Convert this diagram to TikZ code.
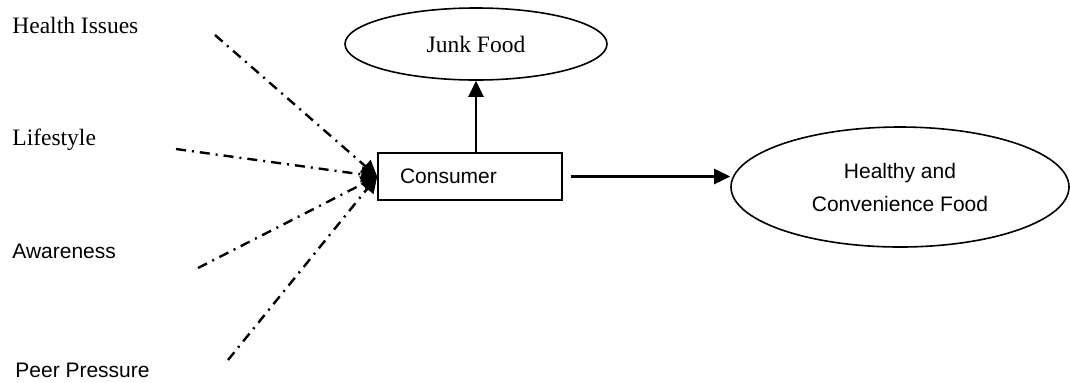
\documentclass[tikz,border=0pt]{standalone}
\usepackage{fontspec}
\setmainfont{Liberation Serif}
\setsansfont{Liberation Sans}
\usetikzlibrary{shapes.geometric,arrows.meta}

\begin{document}
\begin{tikzpicture}[
    x=0.5pt, y=-0.5pt,
    serif/.style={font=\fontsize{11.75}{14}\selectfont},
    sans/.style={font=\sffamily\fontsize{10.5}{16.5}\selectfont},
    factor/.style={anchor=base west, inner sep=0pt},
    oval/.style={draw, ellipse, line width=0.8pt, inner sep=0pt},
    infl/.style={line width=1.2pt, dash pattern=on 5pt off 3pt on 1pt off 3pt,
      -{Triangle[length=8pt,width=8pt]}},
    link/.style={line width=1.3pt, -{Triangle[length=8pt,width=7.5pt]}}
    ]

    \useasboundingbox (0,0) rectangle (1070,382);

    % factors on the left
    \node[factor, serif] (hi) at (12,33) {Health Issues};
    \node[factor, serif] (ls) at (12,145) {Lifestyle};
    \node[factor, sans] (aw) at (12,258) {Awareness};
    \node[factor, sans] (pp) at (15,377) {Peer Pressure};

    \coordinate (hi0) at (215,35);
    \coordinate (ls0) at (176,149);
    \coordinate (aw0) at (198,268);
    \coordinate (pp0) at (228,360);

    % consumer and the two outcomes
    \node[draw, sans, line width=0.8pt, minimum width=92pt, minimum height=23.5pt,
          inner xsep=11pt, text width=70pt, align=left] (con) at (470,176.5) {Consumer};
    \node[oval, serif, minimum width=131pt, minimum height=36pt] (jf) at (476,44) {Junk Food};
    \node[oval, sans, minimum width=169pt, minimum height=60pt, align=center]
          (hc) at (900,187) {Healthy and\\Convenience Food};

    \foreach \s in {hi0,ls0,aw0,pp0}
      \draw[infl] (\s) -- (con.west);

    \draw[link] (jf.south |- con.north) -- (jf.south);
    \draw[link, shorten <=4pt] (con.east) -- (con.east -| hc.west);

\end{tikzpicture}
\end{document}
